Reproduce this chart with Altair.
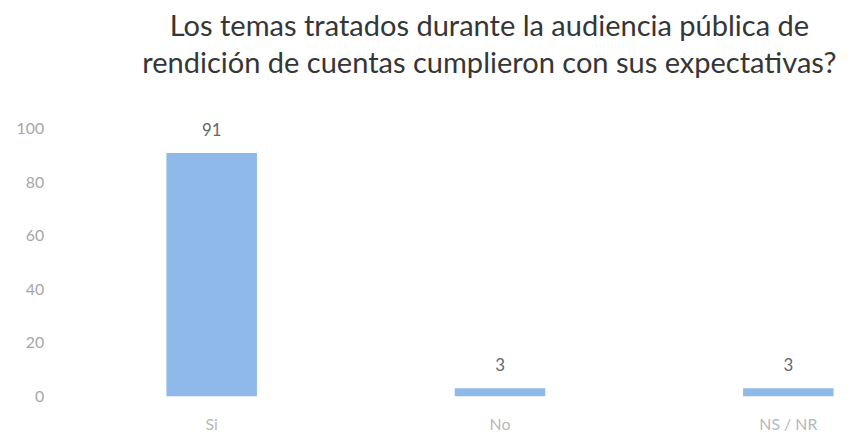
import altair as alt
import pandas as pd

categories = ["Si", "No", "NS / NR"]
values = [91, 3, 3]
y_ticks = [0, 20, 40, 60, 80, 100]
title_lines = ["Los temas tratados durante la audiencia pública de",
               "rendición de cuentas cumplieron con sus expectativas?"]

df = pd.DataFrame({"cat": categories, "val": values})

x_enc = alt.X("cat:N", sort=categories, title=None,
              scale=alt.Scale(paddingInner=0.686, paddingOuter=0.2, align=0.97),
              axis=alt.Axis(labelAngle=0, labelFont="Lato", labelFontSize=16,
                            labelColor="#b8b8b8", labelPadding=20, ticks=False,
                            domain=False, grid=False))
y_enc = alt.Y("val:Q", title=None,
              scale=alt.Scale(domain=[0, 100], nice=False),
              axis=alt.Axis(values=y_ticks, labelFont="Lato", labelFontSize=16,
                            labelColor="#a6a6a6", labelPadding=11, ticks=False,
                            domain=False, grid=False))

base = alt.Chart(df).encode(x=x_enc, y=y_enc)
bars = base.mark_bar(color="#8fb9e8")
labels = base.mark_text(baseline="bottom", dy=-13, font="Lato", fontSize=17,
                        color="#666666").encode(text="val:Q")

chart = (bars + labels).properties(
    width=790, height=270,
    autosize=alt.AutoSizeParams(type="none"),
    padding={"left": 47, "top": 120, "right": 6, "bottom": 43},
    title=alt.TitleParams(title_lines, anchor="middle", font="Lato", fontSize=29.3,
                          fontWeight="normal", color="#363636", lineHeight=38,
                          offset=42, dx=44),
).configure(background="white").configure_view(stroke=None, strokeWidth=0)

chart.save("out.html", embed_options={"renderer": "svg", "actions": False})
